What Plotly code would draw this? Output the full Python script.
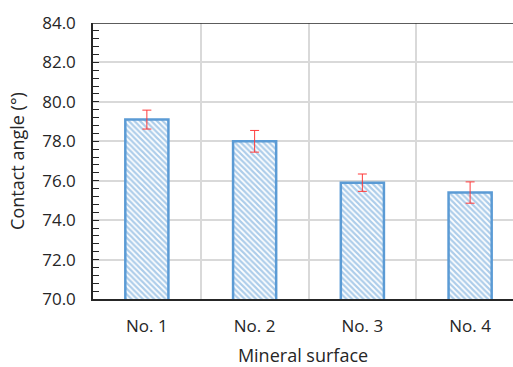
import plotly.graph_objects as go

categories = ["No. 1", "No. 2", "No. 3", "No. 4"]
contact_angle = [79.1, 78.0, 75.9, 75.4]
error = [0.48, 0.55, 0.44, 0.54]
y_ticks = [70, 72, 74, 76, 78, 80, 82, 84]
y_tick_labels = ["70.0", "72.0", "74.0", "76.0", "78.0", "80.0", "82.0", "84.0"]

blue = "#5B9BD5"
font_family = "Open Sans"

fig = go.Figure()
fig.add_trace(go.Bar(
    x=categories,
    y=contact_angle,
    width=0.4,
    marker=dict(
        color="white",
        line=dict(color=blue, width=2.5),
        pattern=dict(shape="\\", fgcolor=blue, bgcolor="white", size=4, solidity=0.55),
    ),
    error_y=dict(type="data", array=error, visible=True, color="#FF3B3B", thickness=1, width=4.5),
))

fig.update_layout(
    width=513, height=367,
    margin=dict(l=93, r=0, t=23, b=68),
    paper_bgcolor="white", plot_bgcolor="white",
    showlegend=False,
    font=dict(family=font_family, size=16, color="#262626"),
)
fig.update_xaxes(
    type="category",
    range=[-0.5, 3.398],
    showline=True, linecolor="#262626", linewidth=1.5,
    showgrid=True, gridcolor="#D9D9D9", gridwidth=1.5,
    tickson="boundaries", ticks="", ticklen=0,
    ticklabelstandoff=11,
    title=dict(text="Mineral surface", font=dict(size=18), standoff=13),
    tickfont=dict(size=17),
)
fig.update_yaxes(
    range=[70, 84],
    tickvals=y_ticks, ticktext=y_tick_labels,
    showline=True, linecolor="#262626", linewidth=1.5,
    showgrid=True, gridcolor="#D9D9D9", gridwidth=1.5,
    ticks="inside", ticklen=6, tickcolor="#262626",
    minor=dict(dtick=0.4, ticks="inside", ticklen=6, tickcolor="#262626", showgrid=False),
    ticklabelstandoff=12,
    title=dict(text="Contact angle (°)", font=dict(size=18), standoff=13),
    tickfont=dict(size=17),
    zeroline=False,
)
fig.add_shape(type="line", xref="paper", yref="y", x0=0, x1=1, y0=84, y1=84,
              line=dict(color="#262626", width=1.5))

fig.write_html("out.html")
